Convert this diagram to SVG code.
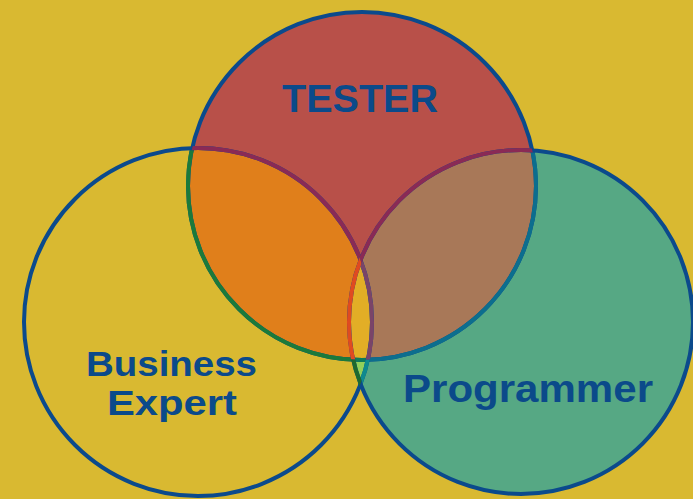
<svg xmlns="http://www.w3.org/2000/svg" width="693" height="499" viewBox="0 0 693 499">
<style>
.lbl{font-family:"Liberation Sans",Arial,sans-serif;font-weight:bold;font-size:39px;fill:#0B4A8A;text-anchor:middle}
.sm{font-size:35px}
.s{fill:none;stroke-width:4}
</style>
<defs>
<clipPath id="cT"><circle cx="362" cy="186" r="174"/></clipPath>
<clipPath id="cB"><circle cx="198" cy="322" r="174"/></clipPath>
<clipPath id="cP"><circle cx="521" cy="322" r="172"/></clipPath>
<mask id="notB"><rect width="693" height="499" fill="#fff"/><circle cx="198" cy="322" r="174" fill="#000"/></mask>
<mask id="notP"><rect width="693" height="499" fill="#fff"/><circle cx="521" cy="322" r="172" fill="#000"/></mask>
<mask id="notT"><rect width="693" height="499" fill="#fff"/><circle cx="362" cy="186" r="174" fill="#000"/></mask>
</defs>
<rect width="693" height="499" fill="#D9B931"/>
<g id="fills">
<circle cx="362" cy="186" r="174" fill="#B85049"/>
<circle cx="521" cy="322" r="172" fill="#56A884"/>
<circle cx="521" cy="322" r="172" fill="#92D05A" clip-path="url(#cB)"/>
<circle cx="198" cy="322" r="174" fill="#E07F1B" clip-path="url(#cT)"/>
<circle cx="521" cy="322" r="172" fill="#A87858" clip-path="url(#cT)"/>
<g clip-path="url(#cT)"><circle cx="521" cy="322" r="172" fill="#E2AE26" clip-path="url(#cB)"/></g>
</g>
<g id="tester">
<circle class="s" cx="362" cy="186" r="174" stroke="#0B4A8C"/>
<g mask="url(#notP)"><circle class="s" cx="362" cy="186" r="174" stroke="#1B7A3A" clip-path="url(#cB)"/></g>
<g mask="url(#notB)"><circle class="s" cx="362" cy="186" r="174" stroke="#0C6E8E" clip-path="url(#cP)"/></g>
<g clip-path="url(#cB)"><circle class="s" cx="362" cy="186" r="174" stroke="#0E7A5A" clip-path="url(#cP)"/></g>
<text class="lbl" x="360" y="112" textLength="156" lengthAdjust="spacingAndGlyphs">TESTER</text>
</g>
<g id="business">
<circle class="s" cx="198" cy="322" r="174" stroke="#0B4A8C"/>
<g mask="url(#notP)"><circle class="s" cx="198" cy="322" r="174" stroke="#8A2A55" clip-path="url(#cT)"/></g>
<g clip-path="url(#cT)"><circle class="s" cx="198" cy="322" r="174" stroke="#7A4468" clip-path="url(#cP)"/></g>
<g mask="url(#notT)"><circle class="s" cx="198" cy="322" r="174" stroke="#0E8A8E" clip-path="url(#cP)"/></g>
<text class="lbl sm" x="171.5" y="375.5" textLength="171" lengthAdjust="spacingAndGlyphs">Business</text>
<text class="lbl sm" x="172" y="415" textLength="130" lengthAdjust="spacingAndGlyphs">Expert</text>
</g>
<g id="programmer">
<circle class="s" cx="521" cy="322" r="172" stroke="#0B4A8C"/>
<g mask="url(#notB)"><circle class="s" cx="521" cy="322" r="172" stroke="#8A2A55" clip-path="url(#cT)"/></g>
<g clip-path="url(#cT)"><circle class="s" cx="521" cy="322" r="172" stroke="#E04A20" clip-path="url(#cB)"/></g>
<g mask="url(#notT)"><circle class="s" cx="521" cy="322" r="172" stroke="#1E6A2E" clip-path="url(#cB)"/></g>
<text class="lbl" x="528" y="402" textLength="250" lengthAdjust="spacingAndGlyphs">Programmer</text>
</g>
<g id="connectors"/>
</svg>
